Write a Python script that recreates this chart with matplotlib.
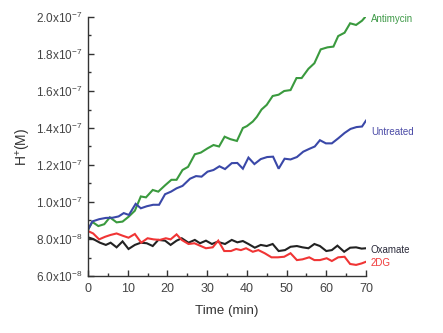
import matplotlib
matplotlib.use("Agg")
import matplotlib.pyplot as plt
from matplotlib.ticker import MultipleLocator, FixedLocator

plt.rcParams['font.family'] = ['Liberation Sans', 'DejaVu Sans']
plt.rcParams['mathtext.fontset'] = 'custom'
plt.rcParams['mathtext.rm'] = 'Liberation Sans'

# ---- data (H+ in units of 1e-7 M) ----
t_anti = [0, 1.1, 2.6, 4.1, 5.5, 7.2, 8.7, 10.2, 11.8, 13.3, 14.6, 16.3, 17.7, 19.4, 21,
          22.3, 23.8, 25.2, 26.9, 28.4, 30.1, 31.6, 33, 34.4, 35.8, 37.5, 39, 40, 41.5, 42.5,
          43.7, 45, 46.5, 48, 49.4, 51, 52.5, 53.8, 55.5, 57, 58.6, 60.3, 61.8, 63, 64.6,
          66, 67.5, 69, 69.8]
v_anti = [0.85, 0.892, 0.87, 0.88, 0.917, 0.89, 0.894, 0.92, 0.953, 1.03, 1.025, 1.065, 1.056,
          1.09, 1.12, 1.12, 1.173, 1.19, 1.258, 1.267, 1.29, 1.308, 1.30, 1.353, 1.34, 1.33,
          1.40, 1.41, 1.435, 1.46, 1.50, 1.525, 1.573, 1.58, 1.60, 1.605, 1.67, 1.67, 1.72,
          1.75, 1.825, 1.836, 1.84, 1.897, 1.915, 1.966, 1.957, 1.98, 2.0]

t_unt = [0, 1.1, 2.8, 4.5, 6.2, 7.7, 9, 10.3, 12, 13.3, 14.8, 16.4, 17.9, 19.4, 20.9, 22.3,
         23.8, 25.7, 27.2, 28.6, 30.1, 31.6, 33.1, 34.5, 36.2, 37.6, 39, 40.4, 41.9, 43.5,
         45.1, 46.6, 48, 49.5, 51, 52.6, 54.2, 55.8, 57.1, 58.4, 59.9, 61.4, 63, 64.6, 66.1,
         67.6, 69, 70]
v_unt = [0.85, 0.895, 0.907, 0.914, 0.915, 0.922, 0.94, 0.93, 0.99, 0.966, 0.977, 0.985, 0.985,
         1.042, 1.056, 1.074, 1.087, 1.126, 1.14, 1.137, 1.164, 1.173, 1.193, 1.178, 1.21,
         1.211, 1.18, 1.24, 1.205, 1.232, 1.243, 1.245, 1.18, 1.234, 1.23, 1.243, 1.272,
         1.288, 1.30, 1.334, 1.317, 1.317, 1.344, 1.373, 1.395, 1.405, 1.408, 1.44]

t_oxa = [0, 1.3, 3, 4.5, 5.7, 7.2, 8.7, 10.2, 11.8, 13.3, 14.8, 16.3, 17.7, 19.4, 20.8, 22.3,
         23.6, 25.3, 26.9, 28.2, 29.7, 31.2, 32.6, 34.5, 36.2, 37.6, 39, 40.4, 42, 43.5, 45,
         46.5, 48, 49.6, 51, 52.6, 54, 55.5, 57, 58.4, 60, 61.4, 62.8, 64.5, 66, 67.5, 68.9, 70]
v_oxa = [0.809, 0.80, 0.78, 0.768, 0.78, 0.755, 0.787, 0.746, 0.768, 0.78, 0.777, 0.762, 0.795,
         0.791, 0.768, 0.791, 0.804, 0.78, 0.795, 0.777, 0.791, 0.773, 0.785, 0.773, 0.795,
         0.782, 0.789, 0.773, 0.753, 0.768, 0.762, 0.773, 0.735, 0.74, 0.758, 0.762, 0.755,
         0.75, 0.773, 0.762, 0.735, 0.74, 0.764, 0.731, 0.753, 0.755, 0.748, 0.75]

t_2dg = [0, 1.3, 2.8, 4.3, 5.7, 7.2, 8.7, 10.2, 11.8, 13.4, 15, 16.5, 18.1, 19.6, 20.8, 22.3,
         23.6, 25.3, 26.8, 28.4, 29.7, 31.4, 32.8, 34.3, 36, 37.3, 38.5, 39.8, 41.5, 42.9,
         44.5, 46.2, 47.8, 49.4, 51, 52.6, 54, 55.7, 57, 58.4, 60.1, 61.4, 63, 64.6, 66,
         67.5, 68.9, 70]
v_2dg = [0.843, 0.83, 0.798, 0.812, 0.822, 0.83, 0.818, 0.807, 0.827, 0.78, 0.804, 0.798,
         0.795, 0.804, 0.798, 0.825, 0.795, 0.773, 0.777, 0.762, 0.75, 0.755, 0.791, 0.735,
         0.735, 0.746, 0.74, 0.75, 0.731, 0.74, 0.723, 0.701, 0.701, 0.704, 0.723, 0.686,
         0.69, 0.701, 0.686, 0.686, 0.696, 0.681, 0.701, 0.704, 0.665, 0.66, 0.668, 0.677]

series_names = ['Antimycin', 'Untreated', 'Oxamate', '2DG']
label_y = [1.99, 1.378, 0.742, 0.672]

y_ticks = [0.6, 0.8, 1.0, 1.2, 1.4, 1.6, 1.8, 2.0]
y_ticklabels = [r'$\mathregular{6.0x10^{-8}}$', r'$\mathregular{8.0x10^{-8}}$',
                r'$\mathregular{1.0x10^{-7}}$', r'$\mathregular{1.2x10^{-7}}$',
                r'$\mathregular{1.4x10^{-7}}$', r'$\mathregular{1.6x10^{-7}}$',
                r'$\mathregular{1.8x10^{-7}}$', r'$\mathregular{2.0x10^{-7}}$']
x_ticks = [0, 10, 20, 30, 40, 50, 60, 70]

colors = ['#3a9a3e', '#3a48a8', '#222222', '#f03535']
label_colors = ['#3f9a48', '#4a4aa6', '#2a2a3a', '#f03a3a']

fig = plt.figure(figsize=(4.43, 3.33), dpi=100)
ax = fig.add_axes([88 / 443, 57 / 333, 278 / 443, 259 / 333])

for (t, v), c in zip([(t_anti, v_anti), (t_unt, v_unt), (t_oxa, v_oxa), (t_2dg, v_2dg)], colors):
    ax.plot(t, v, color=c, lw=1.5, solid_joinstyle='miter')

for name, y, c in zip(series_names, label_y, label_colors):
    ax.text(71.2, y, name, color=c, fontsize=7, va='center', ha='left', clip_on=False)

ax.set_xlim(0, 70)
ax.set_ylim(0.6, 2.0)
ax.xaxis.set_major_locator(FixedLocator(x_ticks))
ax.xaxis.set_minor_locator(MultipleLocator(5))
ax.yaxis.set_major_locator(FixedLocator(y_ticks))
ax.yaxis.set_minor_locator(MultipleLocator(0.1))
ax.set_yticklabels(y_ticklabels)
ax.set_xticklabels([str(x) for x in x_ticks])

for s in ['top', 'right']:
    ax.spines[s].set_visible(False)
for s in ['left', 'bottom']:
    ax.spines[s].set_color('#333333')
    ax.spines[s].set_linewidth(1.0)

ax.tick_params(which='major', direction='in', length=4, width=1, color='#333333',
               labelcolor='#444444')
ax.tick_params(which='minor', direction='in', length=2.5, width=1, color='#333333')
ax.tick_params(axis='x', labelsize=9, pad=5)
ax.tick_params(axis='y', labelsize=8.5, pad=4)

ax.set_xlabel('Time (min)', fontsize=9.6, color='#333333', labelpad=7)
ax.set_ylabel(r'H$^{+}$(M)', fontsize=10, color='#333333', labelpad=2)

fig.savefig('out.png', dpi=100)
